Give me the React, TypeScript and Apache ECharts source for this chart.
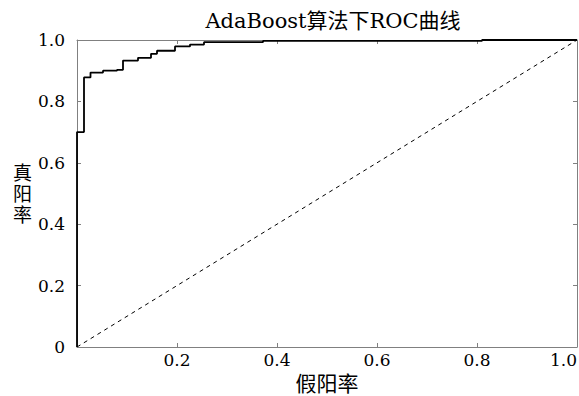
import React, { useEffect, useRef } from "react";
import * as echarts from "echarts";

const fpr = [0, 0, 0.014, 0.027, 0.052, 0.08, 0.092, 0.122, 0.148, 0.16, 0.196, 0.226, 0.254, 0.372, 0.81, 1.0];
const tpr = [0, 0.70, 0.878, 0.894, 0.9, 0.903, 0.933, 0.942, 0.955, 0.965, 0.979, 0.985, 0.993, 0.997, 1.0, 1.0];
const diagX = [0, 1];
const diagY = [0, 1];
const titleText = "AdaBoost算法下ROC曲线";
const xName = "假阳率";
const yName = "真\n阳\n率";

const serif = "'DejaVu Serif', 'Noto Sans CJK SC', serif";
const fmt = (v: number) => (v === 0 ? "0" : v.toFixed(1));

export default function App() {
  const ref = useRef<HTMLDivElement>(null);
  useEffect(() => {
    const chart = echarts.init(ref.current!, null, { renderer: "svg" });
    const mkLine = () => ({ show: true, onZero: false, lineStyle: { color: "#808080", width: 1 } });
    const mkTick = () => ({ show: true, inside: true, length: 4, lineStyle: { color: "#808080" } });
    chart.setOption({
      animation: false,
      backgroundColor: "#fff",
      textStyle: { fontFamily: serif, fontSize: 17, color: "#000" },
      title: {
        text: titleText,
        left: 328,
        textAlign: "center",
        top: 5,
        textStyle: { fontFamily: serif, fontSize: 21, fontWeight: "normal", color: "#000" },
      },
      grid: { left: 77, right: 2, top: 40, bottom: 49, containLabel: false, outerBoundsMode: "none" },
      xAxis: [
        {
          type: "value",
          min: 0,
          max: 1,
          interval: 0.2,
          name: xName,
          nameLocation: "middle",
          nameGap: 26,
          nameTextStyle: { fontFamily: serif, fontSize: 21, color: "#000", lineHeight: 22 },
          axisLine: mkLine(),
          axisTick: mkTick(),
          splitLine: { show: false },
          axisLabel: {
            show: true,
            showMinLabel: false,
            alignMaxLabel: "right",
            formatter: fmt,
            margin: 4,
            fontFamily: serif,
            fontSize: 17,
            color: "#000",
          },
        },
        {
          type: "value",
          position: "top",
          min: 0,
          max: 1,
          interval: 0.2,
          axisLine: mkLine(),
          axisTick: mkTick(),
          splitLine: { show: false },
          axisLabel: { show: false },
        },
      ],
      yAxis: [
        {
          type: "value",
          min: 0,
          max: 1,
          interval: 0.2,
          name: yName,
          nameLocation: "middle",
          nameRotate: 0,
          nameGap: 45,
          nameTextStyle: { fontFamily: serif, fontSize: 19, color: "#000", lineHeight: 21 },
          axisLine: mkLine(),
          axisTick: mkTick(),
          splitLine: { show: false },
          axisLabel: { show: true, formatter: fmt, margin: 12, fontFamily: serif, fontSize: 17, color: "#000" },
        },
        {
          type: "value",
          position: "right",
          min: 0,
          max: 1,
          interval: 0.2,
          axisLine: mkLine(),
          axisTick: mkTick(),
          splitLine: { show: false },
          axisLabel: { show: false },
        },
      ],
      series: [
        {
          type: "line",
          data: fpr.map((x, i) => [x, tpr[i]]),
          step: "end",
          symbol: "none",
          lineStyle: { color: "#000", width: 1.8 },
          z: 3,
        },
        {
          type: "line",
          xAxisIndex: 1,
          yAxisIndex: 1,
          data: diagX.map((x, i) => [x, diagY[i]]),
          symbol: "none",
          lineStyle: { color: "#000", width: 1, type: [4, 4] },
          z: 2,
        },
      ],
    });
    return () => chart.dispose();
  }, []);
  return <div ref={ref} style={{ position: "fixed", left: 0, top: 0, width: 579, height: 396 }} />;
}
